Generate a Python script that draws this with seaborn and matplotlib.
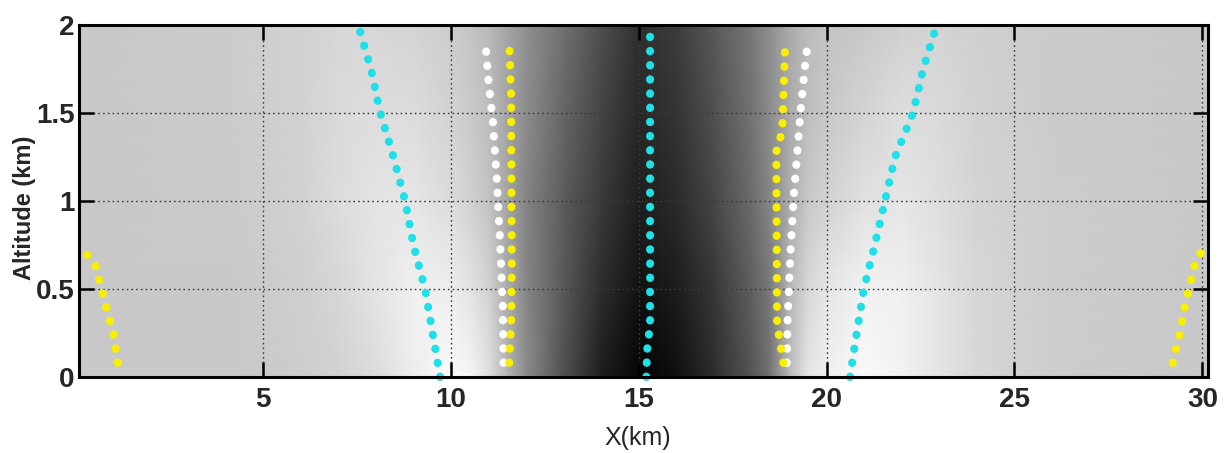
import numpy as np
import matplotlib
matplotlib.use("Agg")
import matplotlib.pyplot as plt
import seaborn as sns

# ---- gray-level field (0 = black, 255 = white) on altitude / distance knots ----
field_x = [0.1, 4, 6, 7, 8, 9, 10, 10.5, 11, 11.5, 12, 13, 14, 15, 16, 17, 18,
           18.5, 19, 19.5, 20, 21, 22, 23, 24, 26, 30.15]
field_alt = [0.0, 0.5, 1.0, 1.5, 2.0]
gray_alt_00 = [200, 200, 205, 210, 220, 238, 250, 245, 225, 180, 140, 80, 30, 5, 15, 45, 85,
               115, 185, 228, 240, 250, 242, 228, 215, 205, 200]
gray_alt_05 = [200, 200, 207, 215, 228, 240, 238, 228, 210, 172, 135, 88, 45, 18, 28, 55, 95,
               122, 180, 215, 230, 242, 240, 228, 215, 205, 200]
gray_alt_10 = [200, 202, 210, 220, 228, 230, 220, 210, 195, 165, 132, 92, 58, 30, 42, 70, 108,
               135, 172, 200, 210, 225, 230, 222, 212, 205, 200]
gray_alt_15 = [200, 203, 210, 218, 222, 220, 210, 202, 190, 165, 140, 102, 68, 40, 52, 80, 115,
               140, 170, 190, 200, 212, 222, 218, 210, 203, 200]
gray_alt_20 = [200, 203, 210, 215, 215, 212, 205, 198, 185, 165, 145, 112, 78, 48, 60, 88, 120,
               143, 170, 188, 195, 200, 208, 212, 208, 203, 200]

# ---- dotted traces (x in km, altitude in km) ----
cyan_left_x = [9.71, 9.51, 9.31, 9.00, 8.78, 8.47, 8.12, 7.87, 7.53]
cyan_left_alt = [0.0, 0.25, 0.5, 0.75, 1.0, 1.25, 1.5, 1.75, 2.0]
cyan_mid_x = [15.20, 15.22, 15.30, 15.30]
cyan_mid_alt = [0.0, 0.15, 0.3, 2.0]
cyan_right_x = [20.62, 20.80, 20.99, 21.28, 21.55, 21.82, 22.30, 22.57, 22.93]
cyan_right_alt = [0.0, 0.25, 0.5, 0.75, 1.0, 1.25, 1.5, 1.75, 2.0]

white_left_x = [11.40, 11.38, 11.30, 11.22, 11.12, 11.00, 10.91]
white_left_alt = [0.08, 0.4, 0.8, 1.12, 1.44, 1.68, 1.92]
white_right_x = [18.94, 18.96, 19.04, 19.13, 19.22, 19.31, 19.42, 19.51]
white_right_alt = [0.08, 0.32, 0.72, 1.04, 1.28, 1.52, 1.76, 1.92]

yellow_left_x = [11.55, 11.60, 11.62, 11.60, 11.55]
yellow_left_alt = [0.08, 0.3, 0.6, 1.6, 1.92]
yellow_right_x = [18.85, 18.68, 18.66, 18.82, 18.90]
yellow_right_alt = [0.08, 0.3, 1.28, 1.4, 1.92]
yellow_edge_left_x = [1.13, 1.02, 0.82, 0.62, 0.53, 0.22]
yellow_edge_left_alt = [0.08, 0.24, 0.40, 0.56, 0.64, 0.72]
yellow_edge_right_x = [29.21, 29.43, 29.53, 29.71, 29.80, 29.99]
yellow_edge_right_alt = [0.08, 0.28, 0.40, 0.56, 0.64, 0.72]

x_ticks = [5, 10, 15, 20, 25, 30]
y_ticks = [0, 0.5, 1, 1.5, 2]
y_tick_labels = ["0", "0.5", "1", "1.5", "2"]

sns.set_style("ticks")
plt.rcParams["font.family"] = ["Liberation Sans", "DejaVu Sans"]
plt.rcParams["lines.scale_dashes"] = False

fig = plt.figure(figsize=(12.31, 4.53), dpi=100)
ax = fig.add_axes([0.0642, 0.1678, 0.9171, 0.777])

gray = np.array([gray_alt_00, gray_alt_05, gray_alt_10, gray_alt_15, gray_alt_20], dtype=float)
gx, gy = np.meshgrid(field_x, field_alt)
ax.pcolormesh(gx, gy, gray, shading="gouraud", cmap="gray", vmin=0, vmax=255,
              rasterized=True, zorder=0)

traces = [
    (cyan_left_x, cyan_left_alt, "#1fe0e6"),
    (cyan_mid_x, cyan_mid_alt, "#1fe0e6"),
    (cyan_right_x, cyan_right_alt, "#1fe0e6"),
    (white_left_x, white_left_alt, "#ffffff"),
    (white_right_x, white_right_alt, "#ffffff"),
    (yellow_left_x, yellow_left_alt, "#f8f000"),
    (yellow_right_x, yellow_right_alt, "#f8f000"),
    (yellow_edge_left_x, yellow_edge_left_alt, "#f8f000"),
    (yellow_edge_right_x, yellow_edge_right_alt, "#f8f000"),
]
for xs, alts, col in traces:
    n_before = len(ax.lines)
    sns.lineplot(x=xs, y=alts, sort=False, estimator=None, color=col, ax=ax)
    for ln in ax.lines[n_before:]:
        ln.set_linewidth(5.8)
        ln.set_linestyle((0, (0.3, 9.9)))
        ln.set_dash_capstyle("round")
        ln.set_zorder(4)
        ln.set_clip_on(False)

ax.set_xlim(0.1, 30.15)
ax.set_ylim(0, 2)
ax.set_xticks(x_ticks)
ax.set_yticks(y_ticks)
ax.set_yticklabels(y_tick_labels)

ax.set_axisbelow(False)
ax.grid(True, color="#3a3a3a", linestyle=(0, (1.2, 2.2)), linewidth=1.0, zorder=3)

for sp in ax.spines.values():
    sp.set_visible(True)
    sp.set_linewidth(2.2)
    sp.set_color("black")
    sp.set_zorder(5)

ax.tick_params(axis="both", which="major", direction="in", length=11, width=1.8,
               top=True, right=True, color="black", labelsize=20, zorder=5)
ax.tick_params(axis="x", pad=7)
ax.tick_params(axis="y", pad=3)
for lab in ax.get_xticklabels() + ax.get_yticklabels():
    lab.set_fontweight("bold")

ax.set_xlabel("X(km)", fontsize=18)
ax.set_ylabel("Altitude (km)", fontsize=17, fontweight="bold")
ax.xaxis.set_label_coords(0.495, -0.14)
ax.yaxis.set_label_coords(-0.038, 0.48)

fig.savefig("out.png", dpi=100)
